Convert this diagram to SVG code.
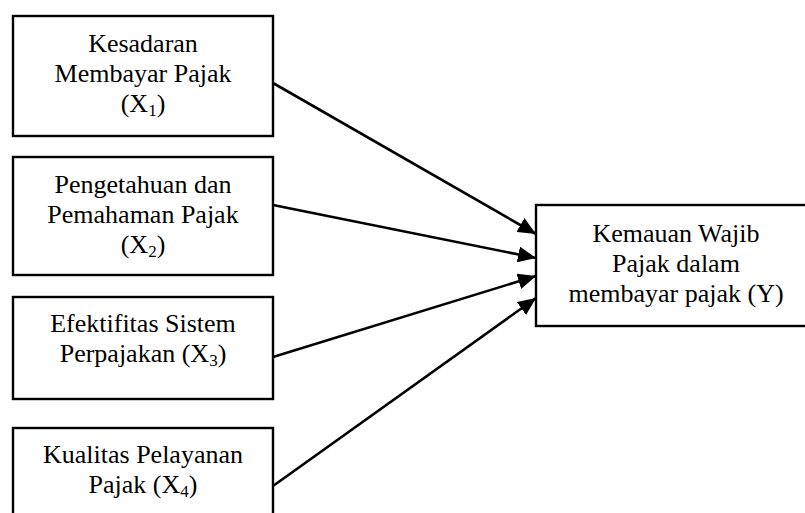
<svg xmlns="http://www.w3.org/2000/svg" width="805" height="513" viewBox="0 0 805 513">
<style>
  .box { fill: #fff; stroke: #000; stroke-width: 2.4; }
  .t { font-size: 26px; fill: #000; text-anchor: middle; }
  .sub { font-size: 17px; }
  .conn { stroke: #000; stroke-width: 2.6; fill: none; marker-end: url(#arr); }
</style>
<defs>
  <marker id="arr" markerUnits="userSpaceOnUse" markerWidth="20" markerHeight="16" refX="18" refY="8" orient="auto">
    <path d="M0,0 L18,8 L0,16 Z" fill="#000"/>
  </marker>
</defs>
<rect width="805" height="513" fill="#fff"/>
<g font-family="Liberation Serif, Tinos, DejaVu Serif, serif">
<g id="x1">
  <rect class="box" x="13" y="16" width="260" height="120"/>
  <text class="t" x="143" y="52">Kesadaran</text>
  <text class="t" x="143" y="82">Membayar Pajak</text>
  <text class="t" x="143" y="112">(X<tspan class="sub" dy="4">1</tspan><tspan dy="-4">)</tspan></text>
</g>
<g id="x2">
  <rect class="box" x="13" y="157" width="260" height="118"/>
  <text class="t" x="143" y="193">Pengetahuan dan</text>
  <text class="t" x="143" y="223">Pemahaman Pajak</text>
  <text class="t" x="143" y="253">(X<tspan class="sub" dy="4">2</tspan><tspan dy="-4">)</tspan></text>
</g>
<g id="x3">
  <rect class="box" x="13" y="297" width="260" height="102"/>
  <text class="t" x="143" y="332">Efektifitas Sistem</text>
  <text class="t" x="143" y="362">Perpajakan (X<tspan class="sub" dy="4">3</tspan><tspan dy="-4">)</tspan></text>
</g>
<g id="x4">
  <rect class="box" x="13" y="428" width="260" height="110"/>
  <text class="t" x="143" y="463">Kualitas Pelayanan</text>
  <text class="t" x="143" y="493">Pajak (X<tspan class="sub" dy="4">4</tspan><tspan dy="-4">)</tspan></text>
</g>
<g id="y">
  <rect class="box" x="536" y="205" width="280" height="121"/>
  <text class="t" x="676" y="242">Kemauan Wajib</text>
  <text class="t" x="676" y="272">Pajak dalam</text>
  <text class="t" x="676" y="302">membayar pajak (Y)</text>
</g>
</g>
<g id="connectors">
  <line class="conn" x1="273" y1="83" x2="536" y2="234"/>
  <line class="conn" x1="273" y1="205" x2="536" y2="258"/>
  <line class="conn" x1="273" y1="357" x2="536" y2="276"/>
  <line class="conn" x1="273" y1="486" x2="536" y2="298"/>
</g>
</svg>
